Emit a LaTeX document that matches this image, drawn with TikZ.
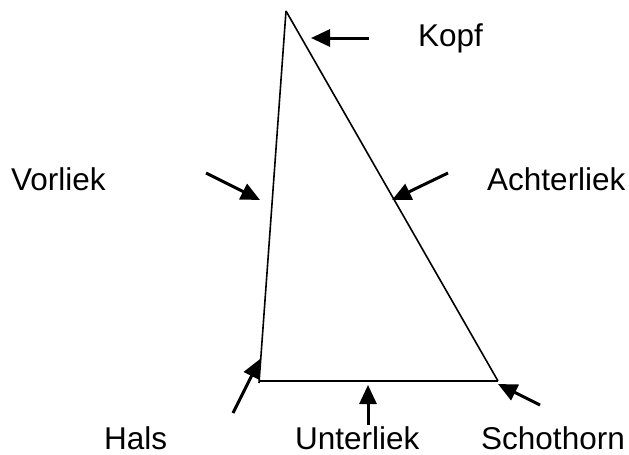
\documentclass[tikz,border=0pt]{standalone}
\usepackage{fontspec}
\setmainfont{Liberation Sans}
\usetikzlibrary{arrows.meta}

\begin{document}
\begin{tikzpicture}[
        x=1pt, y=-1pt,
        lbl/.style={anchor=base west, inner sep=0pt, font=\fontsize{31.5}{36}\selectfont},
        sail/.style={line width=1.6pt, black},
        arr/.style={-{Triangle[length=19pt, width=17pt]}, line width=3pt, black}
      ]
        \useasboundingbox (0,0) rectangle (629,455);
        % sail corners
        \coordinate (top) at (286,11);
        \coordinate (tack) at (259,383);
        \coordinate (clew) at (498,381);
        \draw[sail] (top) -- (tack);
        \draw[sail] (top) -- (clew);
        \draw[sail] (259,381) -- (clew);

        % labels
        \node[lbl] (kopf) at (418,46) {Kopf};
        \node[lbl] (vor) at (11,190) {Vorliek};
        \node[lbl] (achter) at (487,190) {Achterliek};
        \node[lbl] (hals) at (104,449) {Hals};
        \node[lbl] (unter) at (295,449) {Unterliek};
        \node[lbl] (schot) at (481,449) {Schothorn};

        % pointers
        \coordinate (kopfT) at (369,38);   \coordinate (kopfH) at (311,38);
        \coordinate (vorT) at (206,173);   \coordinate (vorH) at (260,200);
        \coordinate (achT) at (448,173);   \coordinate (achH) at (392,200);
        \coordinate (halsT) at (233,413);  \coordinate (halsH) at (260,359);
        \coordinate (unterT) at (368,425); \coordinate (unterH) at (368,385);
        \coordinate (schotT) at (540,405); \coordinate (schotH) at (498,384);

        \draw[arr] (kopfT) -- (kopfH);
        \draw[arr] (vorT) -- (vorH);
        \draw[arr] (achT) -- (achH);
        \draw[arr] (halsT) -- (halsH);
        \draw[arr] (unterT) -- (unterH);
        \draw[arr] (schotT) -- (schotH);
      \end{tikzpicture}
\end{document}
